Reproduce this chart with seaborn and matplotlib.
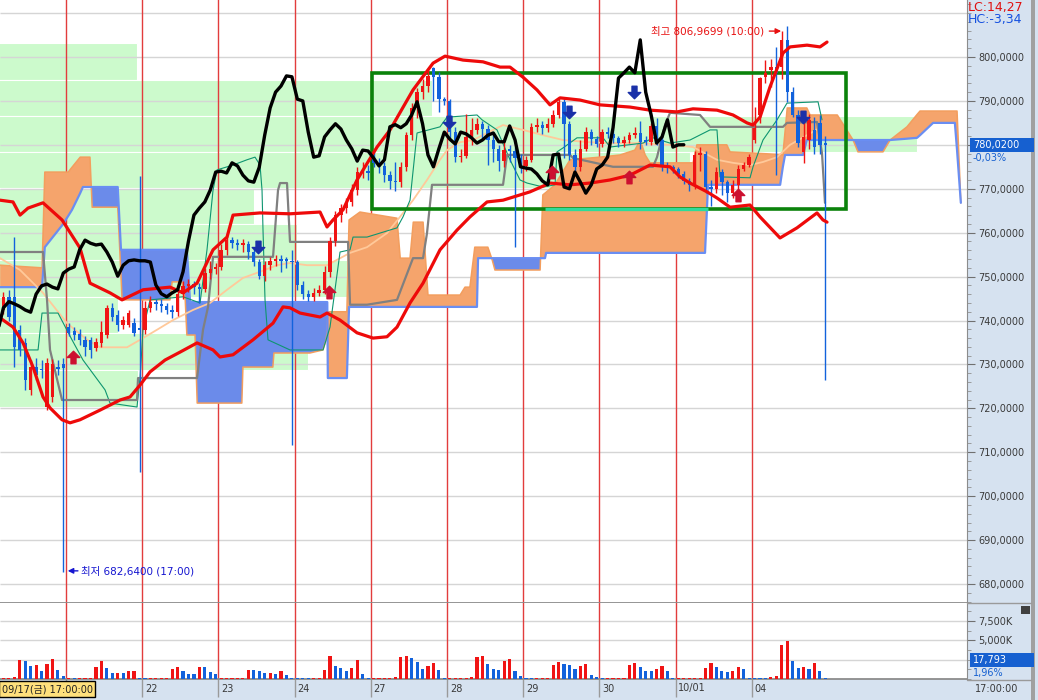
import numpy as np
import matplotlib
matplotlib.use("Agg")
import matplotlib.pyplot as plt
import seaborn as sns
from matplotlib.path import Path
from matplotlib.patches import Rectangle
from matplotlib.ticker import MultipleLocator

sns.set_style("white")
plt.rcParams["font.family"] = ["DejaVu Sans", "Noto Sans CJK KR"]

# ---------------- data (hourly bars, 14 per session, bar 0 = first day line) ----------------
first_bar = -12
opens = [742.4, 745.4, 745.4, 737.9, 734.9, 724.2, 729.4, 729.0, 720.3, 722.5, 729.5, 730.0,
         738.5, 737.6, 737.0, 735.6, 735.6, 733.7, 734.9, 736.7, 742.9, 741.3, 739.0, 739.0, 739.4,
         738.3, 737.8, 742.9, 744.3, 743.8, 743.2, 742.4, 741.9, 746.0, 747.9, 748.3, 747.6,
         747.2, 750.8, 751.7, 752.2, 756.1, 758.3, 757.6, 757.2, 757.4, 755.6, 753.3, 750.1, 752.6, 753.6,
         753.8, 754.0, 753.6, 753.3, 748.1, 746.1, 745.4, 746.3, 747.0, 751.1, 758.1, 764.0, 765.6, 767.0,
         769.7, 773.8, 774.0, 777.5, 775.9, 775.2, 773.1, 771.8, 771.5, 774.9, 782.2, 788.4, 792.0, 793.4,
         797.5, 795.5, 790.4, 790.0, 782.9, 777.2, 777.5, 781.8, 783.4, 784.8, 783.6, 781.1, 779.1, 776.3,
         778.8, 778.6, 777.0, 775.2, 776.6, 784.1, 784.6, 783.9, 784.8, 786.8, 789.8, 784.8, 777.7, 775.0,
         779.1, 782.9, 781.3, 780.2, 782.9, 782.5, 781.6, 780.4, 781.1, 782.2, 782.7, 781.2, 780.7, 784.3,
         781.1, 775.0, 774.7, 774.5, 773.4, 771.8, 770.9, 777.7, 777.9, 770.4, 770.0, 773.8, 771.5, 769.0,
         770.9, 774.5, 775.4,
         781.0, 786.8, 795.4, 797.0, 797.7, 797.7, 803.9, 792.0, 786.8, 778.4, 781.1, 783.4, 785.0, 780.2]
highs = [746.5, 747.0, 759.0, 739.0, 736.0, 731.0, 731.5, 731.0, 731.5, 731.2, 731.0, 731.5,
         739.5, 738.5, 738.0, 736.5, 736.2, 736.0, 740.0, 743.5, 744.0, 742.5, 741.0, 742.5, 740.5,
         773.0, 744.5, 745.5, 745.0, 745.0, 744.0, 743.5, 747.0, 749.0, 749.5, 749.0, 748.5,
         752.0, 753.5, 753.0, 757.5, 759.5, 759.0, 758.5, 758.5, 758.0, 756.5, 754.0, 753.5, 754.5, 755.0,
         755.0, 754.5, 756.0, 753.8, 749.0, 747.0, 747.5, 748.0, 752.5, 759.0, 765.0, 766.5, 768.0, 771.0,
         775.0, 776.0, 775.5, 778.5, 777.0, 776.0, 774.0, 776.0, 776.0, 783.0, 789.5, 793.0, 795.0, 797.5,
         797.8, 796.5, 791.0, 790.5, 784.0, 779.0, 787.0, 786.0, 786.0, 785.5, 784.5, 782.5, 780.0, 781.0,
         780.0, 779.5, 778.0, 777.5, 785.0, 786.0, 785.5, 786.0, 788.0, 791.0, 790.5, 785.5, 779.0, 781.0,
         784.0, 783.5, 782.0, 783.5, 784.0, 783.5, 782.0, 782.0, 783.0, 784.0, 785.5, 782.0, 785.0, 786.0,
         782.0, 776.0, 775.5, 775.0, 774.0, 772.5, 778.5, 779.5, 778.5, 772.0, 775.0, 774.5, 772.0, 772.0,
         775.5, 776.0, 778.0,
         788.6, 795.5, 799.3, 799.5, 802.3, 806.0, 806.97, 793.2, 787.9, 785.7, 787.0, 786.3, 786.8, 782.0]
lows = [741.5, 740.0, 729.4, 732.0, 724.2, 723.0, 726.5, 727.0, 719.6, 721.5, 727.5, 682.64,
        736.5, 735.5, 734.5, 732.0, 731.5, 733.0, 734.0, 736.0, 740.0, 737.5, 738.0, 738.5, 736.5,
        705.5, 737.0, 742.0, 742.5, 742.0, 741.5, 740.5, 741.0, 745.0, 746.5, 746.0, 744.0,
        746.5, 749.5, 750.5, 751.5, 755.0, 756.5, 756.0, 755.5, 754.0, 752.5, 749.5, 749.0, 751.5, 752.5,
        751.0, 752.0, 711.6, 747.0, 745.0, 744.5, 744.5, 745.5, 746.0, 750.0, 757.0, 762.5, 764.5, 766.0,
        768.5, 772.5, 772.0, 775.0, 773.5, 771.5, 770.0, 769.5, 770.5, 774.0, 781.0, 786.0, 790.5, 792.0,
        790.0, 787.5, 789.0, 781.5, 776.0, 776.0, 777.0, 780.0, 782.5, 781.0, 775.5, 776.0, 774.0, 775.0,
        776.0, 756.8, 773.5, 774.0, 776.0, 783.0, 782.5, 783.0, 784.0, 786.0, 777.0, 776.5, 774.0, 774.0,
        778.5, 780.0, 779.5, 779.5, 781.5, 780.5, 779.5, 779.5, 780.5, 781.5, 779.0, 780.0, 780.0, 780.0,
        774.0, 773.5, 773.5, 772.5, 771.0, 769.5, 770.0, 774.0, 769.0, 766.0, 769.0, 768.5, 767.0, 768.0,
        770.0, 774.0, 775.0,
        780.4, 785.0, 794.0, 793.2, 773.1, 795.0, 789.8, 786.3, 779.5, 775.9, 779.0, 778.0, 778.0, 726.5]
closes = [745.4, 740.8, 734.0, 733.3, 726.5, 729.4, 727.5, 728.7, 730.3, 730.0, 729.0, 729.2,
          737.2, 736.7, 735.6, 734.0, 733.3, 735.1, 737.4, 742.9, 740.8, 739.0, 740.1, 741.7, 737.2,
          737.8, 742.9, 744.3, 743.8, 743.2, 742.4, 741.9, 746.0, 747.9, 748.3, 747.6, 747.2,
          750.8, 751.7, 752.2, 756.1, 758.3, 757.6, 757.2, 757.4, 755.6, 753.3, 750.1, 752.6, 753.6, 753.8,
          753.6, 753.6, 753.3, 748.1, 746.1, 745.4, 746.3, 747.0, 751.1, 758.1, 764.0, 765.6, 767.0, 769.7,
          773.8, 774.0, 773.6, 775.9, 775.2, 773.1, 771.8, 771.5, 774.9, 782.2, 788.4, 792.0, 793.4, 795.7,
          795.5, 790.4, 790.0, 782.9, 777.2, 777.5, 781.8, 783.4, 784.8, 783.6, 781.1, 779.1, 776.3, 778.8,
          778.6, 777.0, 775.2, 776.6, 784.1, 784.6, 783.9, 784.8, 786.8, 789.8, 784.8, 777.7, 775.0, 779.1,
          782.9, 781.3, 780.2, 782.9, 782.5, 781.6, 780.4, 781.1, 782.2, 782.7, 780.7, 780.7, 784.3, 781.1,
          775.0, 774.7, 774.5, 773.4, 771.8, 770.9, 777.7, 777.9, 770.4, 770.0, 773.8, 771.5, 769.0, 770.9,
          774.5, 775.4, 777.2,
          783.9, 795.2, 796.4, 797.7, 796.4, 803.9, 792.0, 786.8, 780.4, 781.8, 785.7, 779.5, 780.0, 780.02]
volumes = [130, 130, 300, 2420, 2290, 1640, 1770, 990, 1900, 2550, 1120, 350,
           130, 130, 130, 130, 130, 1510, 2290, 1380, 730, 730, 730, 990, 990, 130,
           130, 130, 130, 130, 130, 1250, 1510, 990, 600, 600, 1510, 1510, 860, 600,
           130, 130, 130, 130, 130, 1120, 1120, 990, 730, 730, 600, 990, 475, 130,
           130, 130, 130, 130, 130, 1120, 2940, 1640, 1380, 990, 1380, 2420, 600, 130,
           130, 130, 130, 130, 216, 2810, 2940, 2680, 2160, 1250, 1640, 2030, 1120, 130,
           130, 130, 130, 130, 216, 2810, 2940, 1900, 1250, 1120, 2290, 2550, 990, 350,
           130, 130, 130, 130, 130, 1770, 2160, 1900, 1770, 1250, 1640, 1900, 475, 216,
           130, 130, 130, 130, 130, 1770, 2030, 1510, 990, 990, 1250, 1640, 990, 130,
           130, 130, 130, 130, 130, 1380, 2030, 1510, 990, 860, 990, 1510, 1250, 130,
           130, 130, 130, 216, 350, 4360, 4880, 2290, 1380, 1510, 1250, 2030, 990, 130]
vol_up = ("rrrrbbrbrrbb" + "rbrrrrrbbrbrrb" + "brrrrrrbbbrbbb" + "rrrrrrbbbrbrbb" +
          "bbbrrrrbbbrrbb" + "rrrrrrrbbbrrbb" + "rrrrrrrbbbrrbb" + "bbrrrrrbbbrrbb" +
          "brrrrrrbbbrrbb" + "rrrrrrrbbbrrbb" + "bbbrrrrbbrbrbb")

day_starts = [0, 14, 28, 42, 56, 70, 84, 98, 112, 126]
day_labels = ["", "22", "23", "24", "27", "28", "29", "30", "10/01", "04"]

# Bollinger bands and middle line
upper_x = [-12.13, -9.74, -8.45, -6.98, -4.23, -0.73, 2.57, 4.41, 8.08, 10.29, 14.15, 19.11, 21.50, 24.07,
           27.01, 29.58, 30.68, 35.64, 41.15, 46.67, 47.95, 49.05, 50.89, 53.46, 57.14, 59.53, 63.75,
           67.43, 69.63, 72.94, 76.61, 79.74, 81.57, 83.96, 86.53, 88.92, 90.76, 94.43, 98.11, 103.62,
           107.29, 112.25, 115.19, 119.60, 122.54, 125.11, 126.22, 127.50, 129.34, 131.73, 133.01,
           136.14, 138.53, 139.81]
upper_y = [767.4, 767.0, 764.0, 765.6, 766.8, 762.9, 756.5, 748.5, 746.3, 744.7, 747.0, 747.6, 746.3, 748.5,
           756.1, 759.0, 764.0, 764.5, 764.3, 764.7, 761.3, 762.9, 765.2, 772.0, 779.5, 783.4, 792.5,
           798.6, 800.2, 799.3, 798.9, 797.7, 797.7, 795.4, 792.5, 789.1, 790.7, 790.2, 789.1, 788.6,
           787.9, 787.5, 788.2, 787.9, 786.8, 785.0, 784.5, 786.3, 793.2, 800.9, 802.3, 802.7, 802.3, 803.4]
lower_x = [-12.13, -9.74, -7.90, -6.06, -4.23, -2.94, -0.73, 0.73, 2.57, 6.25, 9.92, 11.76, 13.60, 15.43,
           18.19, 20.94, 24.07, 27.01, 28.29, 30.68, 34.35, 38.03, 39.87, 41.15, 42.99, 46.67, 47.95,
           50.34, 53.46, 56.40, 58.97, 60.81, 63.20, 65.59, 68.71, 71.84, 74.22, 77.35, 80.29, 85.25,
           88.92, 92.60, 96.27, 99.94, 103.62, 107.29, 110.97, 112.80, 114.64, 117.77, 119.60, 121.99,
           125.67, 127.50, 131.18, 134.30, 137.97, 139.07, 139.81]
lower_y = [740.6, 738.5, 734.9, 729.4, 722.6, 720.1, 717.4, 716.7, 717.4, 719.6, 721.9, 722.6, 725.3, 728.3,
           731.0, 732.8, 734.9, 733.3, 731.7, 732.2, 735.6, 739.4, 743.1, 742.9, 741.7, 740.8, 741.7,
           740.1, 737.2, 736.0, 736.3, 738.5, 744.0, 748.5, 756.1, 760.6, 763.6, 767.0, 767.4, 769.3,
           771.3, 770.9, 771.3, 772.0, 773.1, 775.4, 775.0, 772.7, 771.3, 769.3, 767.9, 765.8,
           766.3, 763.6, 758.8, 761.1, 764.5, 762.9, 762.4]
mid_x = [-12.13, -8.45, -4.23, 0.18, 3.86, 6.25, 11.21, 13.60, 16.72, 19.66, 23.33, 26.46, 29.58, 32.52,
         35.64, 38.77, 41.15, 44.28, 47.95, 52.18, 55.30, 58.97, 61.36, 63.75, 66.32, 68.71, 70.00, 72.39,
         74.78, 77.35, 80.29, 83.96, 87.64, 91.31, 96.27, 99.94, 104.91, 110.97, 115.19, 119.60, 122.54,
         125.67, 128.05, 130.63, 133.01, 136.14, 138.53]
mid_y = [754.2, 751.5, 746.3, 739.4, 735.6, 733.9, 733.9, 735.6, 737.9, 740.1, 742.4, 744.0, 747.0, 749.7,
         751.1, 752.6, 753.1, 752.6, 752.6, 755.4, 756.7, 759.9, 763.6, 767.4, 772.0, 776.6, 778.8, 780.6,
         781.1, 782.7, 784.5, 783.4, 782.2, 781.1, 780.6, 780.4, 780.4, 780.0, 779.5, 776.6, 775.9,
         775.4, 776.1, 777.2, 780.0, 782.2, 783.9]

# Ichimoku: base line, conversion line, leading spans
base_x = [-12.13, -4.23, -3.49, -2.94, -0.73, 13.04, 13.23, 24.07, 25.17, 26.09, 27.01, 38.03, 38.95, 39.32,
          40.60, 41.15, 51.81, 52.18, 55.30, 60.81, 63.75, 65.59, 66.32, 67.24, 80.29, 81.02, 92.60, 93.15,
          100.50, 107.84, 108.58, 110.05, 110.97, 116.48, 118.32, 131.73, 132.46, 137.97, 138.89, 139.44]
base_y = [755.6, 755.6, 744.7, 733.3, 721.9, 721.9, 726.9, 726.9, 737.9, 743.1, 754.5, 754.5, 769.7, 771.3,
          771.3, 757.9, 757.9, 743.6, 743.6, 744.7, 754.2, 754.2, 759.9, 770.9, 770.9, 777.7, 777.7, 777.0,
          775.0, 775.0, 777.2, 784.5, 787.3, 786.8, 784.1, 784.1, 785.0, 785.2, 778.1, 766.8]
conv_x = [-12.13, -5.14, -4.41, -1.47, 1.10, 3.12, 7.17, 8.08, 13.04, 13.60, 14.15, 15.43, 21.50, 24.62,
          25.90, 27.01, 27.74, 30.68, 33.25, 34.72, 35.64, 36.01, 36.19, 36.56, 37.11, 41.15, 47.22, 48.50,
          50.34, 52.18, 52.73, 55.30, 60.81, 61.91, 63.20, 64.49, 68.71, 70.00, 75.51, 76.43, 79.18, 81.57,
          83.41, 84.70, 87.64, 89.84, 90.21, 91.31, 93.88, 98.66, 99.94, 106.01, 107.84, 110.97, 114.64,
          118.32, 119.60, 120.15, 125.67, 126.22, 128.05, 130.63, 132.46, 138.16, 138.89]
conv_y = [733.3, 733.3, 741.7, 741.7, 735.6, 731.0, 724.2, 721.2, 720.3, 727.1, 737.9, 744.7, 745.4, 744.0,
          756.1, 769.7, 774.3, 775.4, 776.6, 777.2, 775.4, 769.7, 760.6, 744.7, 735.6, 733.3, 733.3, 738.5,
          755.6, 756.1, 759.0, 759.0, 761.1, 763.6, 767.4, 782.7, 784.1, 786.3, 786.8, 785.7, 783.4, 776.6,
          772.0, 771.3, 770.4, 770.9, 778.4, 779.3, 781.6, 781.6, 779.5, 780.4, 781.6, 780.4, 781.1,
          783.4, 783.4, 772.7, 772.5, 775.0, 781.1, 785.7, 789.5, 789.8, 785.7]
cloud_x = [-12.1, -4.4, -3.9, -0.7, 0.4, 1.1, 2.6, 3.1, 4.4, 4.8, 9.5, 10.1, 10.3, 19.1, 19.5, 21.3, 21.9,
           22.2, 22.8, 23.7, 24.1, 32.3, 32.5, 38.0, 38.2, 44.8, 47.2, 47.8, 48.0, 48.1, 51.6, 52.0, 54.0,
           60.8, 61.4, 63.2, 63.8, 65.6, 66.5, 72.4, 73.3, 74.2, 75.1, 75.5, 75.7, 77.5, 78.3, 78.8, 87.1,
           87.6, 88.0, 88.2, 89.8, 92.6, 98.1, 101.8, 104.5, 105.5, 106.4, 107.3, 115.2, 115.9, 117.4,
           117.95, 121.4, 122.0, 131.2, 131.7, 132.1, 132.5, 135.4, 136.1, 136.7, 141.7, 144.6, 145.5,
           150.1, 151.4, 154.5, 156.35, 156.9, 159.3, 163.3, 163.7, 164.4]
span_a = [752.6, 752.0, 773.8, 773.8, 773.8, 774.9, 777.2, 777.2, 777.2, 765.8, 765.8, 750.2, 744.7, 744.7,
          748.8, 748.8, 744.7, 736.7, 736.7, 736.7, 721.2, 721.2, 729.4, 729.4, 732.6, 732.6, 733.3, 735.6,
          738.0, 742.0, 742.0, 762.9, 764.7, 763.3, 754.2, 754.2, 762.4, 762.4, 745.8, 745.8, 747.6, 747.6,
          756.7, 756.7, 756.7, 756.7, 753.8, 751.5, 751.5, 768.6, 769.0, 769.2, 770.9, 776.6, 777.2, 777.7,
          778.8, 781.1, 777.7, 775.9, 775.9, 780.0, 780.0, 780.0, 780.0, 778.4, 777.8, 777.7, 783.0, 788.4,
          788.4, 788.4, 786.8, 786.8, 781.1, 778.4, 778.4, 781.1, 784.1, 786.9, 787.7, 787.7, 787.7, 787.7,
          766.8]
span_b = [747.6, 747.6, 756.7, 761.7, 763.8, 765.2, 769.0, 770.4, 770.4, 770.4, 770.4,
          756.1, 756.1, 756.1, 756.1, 756.1, 756.1, 756.1,
          744.2, 744.2, 744.2, 744.2, 744.2, 744.2, 744.2, 744.2, 744.2, 744.2, 744.2,
          726.9, 726.9,
          743.1, 743.1, 743.1, 743.1, 743.1, 743.1, 743.1, 743.1, 743.1, 743.1, 743.1, 743.1, 743.1,
          754.2, 754.2, 754.2, 754.2, 754.2, 754.2, 754.2,
          755.4, 755.4, 755.4, 755.4, 755.4, 755.4, 755.4, 755.4, 755.4, 755.4, 755.4, 755.4,
          770.9, 770.9, 770.9, 770.9, 775.0, 777.7, 777.7, 777.7,
          781.1, 781.1, 781.1, 781.1, 781.1, 781.1, 781.1, 781.4, 781.6, 782.2, 785.0, 785.0, 778.8, 766.8]

# price-by-volume bands
band_lo = [794.8, 786.6, 778.4, 770.2, 762.0, 753.8, 745.4, 737.2, 728.7, 720.3]
band_hi = [803.2, 794.8, 786.6, 778.4, 770.2, 762.0, 753.8, 745.4, 737.2, 728.7]
band_end = [13.0, 67.2, 156.4, 114.6, 34.5, 42.4, 51.6, 9.6, 44.5, 13.2]

# signal arrows
buy_x = [1.29, 48.32, 89.29, 103.44, 123.46]
buy_y = [731.7, 746.5, 773.8, 772.7, 768.6]
sell_x = [35.27, 70.37, 92.42, 104.36, 135.40]
sell_y = [756.7, 785.2, 787.5, 792.0, 786.3]

for arr in (opens, highs, lows, closes, volumes):
    assert len(arr) == len(vol_up), len(arr)

# ---------------- figure ----------------
RED = "#F01414"
BLUE = "#1262DC"
PANEL = "#D6E2F0"
xmin, xmax = -12.13, 165.53

fig = plt.figure(figsize=(10.38, 7), dpi=100)
fig.patch.set_facecolor(PANEL)
W = 967 / 1038
ax = fig.add_axes([0, 97 / 700, W, 603 / 700])
axv = fig.add_axes([0, 21 / 700, W, 76 / 700], sharex=ax)
for a in (ax, axv):
    a.set_facecolor("white")

o = np.array(opens); h = np.array(highs); l = np.array(lows); c = np.array(closes)
xc = np.arange(first_bar, first_bar + len(c)) + 0.5

# bands
for lo, hi, end in zip(band_lo, band_hi, band_end):
    ax.add_patch(Rectangle((xmin - 1, lo), end - xmin + 1, hi - lo, facecolor="#CCFACC",
                           edgecolor="white", lw=0.8, zorder=0.5))
ax.hlines(np.arange(680, 811, 10), xmin, xmax, colors="#D5D5D5", lw=1, zorder=0.7)
ax.vlines(day_starts, 670, 820, colors="#E23C3C", lw=1, zorder=1)
axv.vlines(day_starts, 0, 10000, colors="#E23C3C", lw=1, zorder=1)
axv.hlines([2500, 5000, 7500], xmin, xmax, colors="#D5D5D5", lw=1, zorder=0.7)

# cloud
sa = np.array(span_a); sb = np.array(span_b)
ax.fill_between(cloud_x, sa, sb, where=sa >= sb, interpolate=True, color="#F5A46C", lw=0, zorder=2)
ax.fill_between(cloud_x, sa, sb, where=sa < sb, interpolate=True, color="#6B8BEA", lw=0, zorder=2)
sns.lineplot(x=cloud_x, y=span_a, ax=ax, color="#F39E5E", linewidth=1.1, estimator=None, sort=False, zorder=2.5)
sns.lineplot(x=cloud_x, y=span_b, ax=ax, color="#6A8EF2", linewidth=1.6, estimator=None, sort=False, zorder=2.5)

# box around the range
ax.add_patch(Rectangle((56.22, 765.4), 143.30 - 56.22, 796.4 - 765.4, fill=False,
                       edgecolor="#0B820B", lw=2.6, zorder=4.5))
ax.plot([88.0, 117.95], [765.4, 765.4], color="#2EDB9A", lw=2.4, zorder=4.6, solid_capstyle="butt")

# indicator lines
sns.lineplot(x=mid_x, y=mid_y, ax=ax, color="#FFC99A", linewidth=1.3, estimator=None, sort=False, zorder=3)
sns.lineplot(x=conv_x, y=conv_y, ax=ax, color="#0E9570", linewidth=0.8, estimator=None, sort=False, zorder=3.5)
sns.lineplot(x=base_x, y=base_y, ax=ax, color="#808080", linewidth=1.6, estimator=None, sort=False, zorder=4)

# candles
up = c >= o
ccol = np.where(up, RED, BLUE)
ax.vlines(xc, l, h, colors=ccol, lw=1, zorder=5)
body_lo = np.minimum(o, c)
body_h = np.maximum(np.abs(c - o), 0.35)
ax.bar(xc, body_h, bottom=body_lo, width=0.62, color=ccol, lw=0, zorder=5.1)

# bollinger + lagging span
sns.lineplot(x=upper_x, y=upper_y, ax=ax, color="#EE0A0A", linewidth=2.3, estimator=None, sort=False, zorder=6.5)
sns.lineplot(x=lower_x, y=lower_y, ax=ax, color="#EE0A0A", linewidth=2.3, estimator=None, sort=False, zorder=6.5)
sns.lineplot(x=xc[25:] - 26, y=c[25:], ax=ax, color="black", linewidth=2.4, estimator=None, sort=False, zorder=7)

# signal arrows
uv = [(-0.2, -0.5), (0.2, -0.5), (0.2, 0.0), (0.5, 0.0), (0.0, 0.5), (-0.5, 0.0), (-0.2, 0.0), (-0.2, -0.5)]
codes = [Path.MOVETO] + [Path.LINETO] * 6 + [Path.CLOSEPOLY]
up_arrow = Path(uv, codes)
down_arrow = Path([(x, -y) for x, y in uv], codes)
ax.plot(buy_x, buy_y, ls="none", marker=up_arrow, markersize=9, color="#CC1030", zorder=8)
ax.plot(sell_x, sell_y, ls="none", marker=down_arrow, markersize=9, color="#1A30A8", zorder=8)

# high / low notes
ax.text(128.3, 805.9, "최고 806,9699 (10:00)", color="#E81010", fontsize=7.5, ha="right", va="center", zorder=9)
ax.annotate("", xy=(131.9, 805.9), xytext=(128.7, 805.9),
            arrowprops=dict(arrowstyle="-|>", color="#E81010", lw=1, mutation_scale=8), zorder=9)
ax.text(2.8, 683.0, "최저 682,6400 (17:00)", color="#1515D0", fontsize=7.5, ha="left", va="center", zorder=9)
ax.annotate("", xy=(-0.2, 683.0), xytext=(2.7, 683.0),
            arrowprops=dict(arrowstyle="-|>", color="#1515D0", lw=1, mutation_scale=8), zorder=9)

# volume
vcol = [RED if u == "r" else BLUE for u in vol_up]
axv.bar(xc, volumes, width=0.58, color=vcol, lw=0, zorder=3)

# axes styling
ax.set_xlim(xmin, xmax)
ax.set_ylim(675.68, 812.98)
axv.set_ylim(0, 9800)
ax.set_xlabel(""); ax.set_ylabel("")
for a in (ax, axv):
    a.tick_params(axis="x", bottom=False, labelbottom=False)
    a.yaxis.tick_right()
    for s in ("left", "top"):
        a.spines[s].set_visible(False)
    a.spines["right"].set_color("#8C8C8C")
    a.spines["bottom"].set_color("#8C8C8C")
    a.spines["bottom"].set_linewidth(1.3)

pticks = np.arange(680, 801, 10)
ax.set_yticks(pticks)
ax.set_yticklabels(["" if v == 780 else f"{v:.4f}".replace(".", ",") for v in pticks])
ax.yaxis.set_minor_locator(MultipleLocator(2))
ax.tick_params(axis="y", which="major", length=6, color="#707070", labelsize=7, labelcolor="#3A3A3A", pad=2)
ax.tick_params(axis="y", which="minor", length=3, color="#909090")

axv.set_yticks([5000, 7500])
axv.set_yticklabels(["5,000K", "7,500K"])
axv.yaxis.set_minor_locator(MultipleLocator(1250))
axv.tick_params(axis="y", which="major", length=6, color="#707070", labelsize=7, labelcolor="#3A3A3A", pad=2)
axv.tick_params(axis="y", which="minor", length=3, color="#909090")

# date band
tr = axv.get_xaxis_transform()
axv.vlines(day_starts, -0.237, 0, transform=tr, colors="#9A9A9A", lw=1, clip_on=False)
for d, lab in zip(day_starts, day_labels):
    axv.text(d + 0.5, -0.125, lab, transform=tr, fontsize=7, color="#3A3A3A", va="center", ha="left")

fig.text(1.5 / 1038, 11 / 700, "09/17(금) 17:00:00", fontsize=7, color="#202020", va="center",
         bbox=dict(boxstyle="square,pad=0.28", fc="#FFE07C", ec="black", lw=1))
fig.text(975 / 1038, 11 / 700, "17:00:00", fontsize=7, color="#3A3A3A", va="center")

# right panel decorations
fig.add_artist(Rectangle((1031 / 1038, 0), 4 / 1038, 1, transform=fig.transFigure,
                         facecolor="#A0A0A0", lw=0))
for yy in (603, 680):
    fig.add_artist(plt.Line2D([967 / 1038, 1031 / 1038], [1 - yy / 700] * 2, transform=fig.transFigure,
                              color="#9A9A9A", lw=1))
fig.text(968 / 1038, 1 - 8 / 700, "LC:14,27", fontsize=9, color="#E01010", va="center")
fig.text(968 / 1038, 1 - 20 / 700, "HC:-3,34", fontsize=9, color="#1450E0", va="center")

fig.add_artist(Rectangle((970 / 1038, 1 - 152 / 700), 64 / 1038, 14 / 700, transform=fig.transFigure,
                         facecolor="#1660D0", lw=0))
fig.text(973 / 1038, 1 - 145 / 700, "780,0200", fontsize=7, color="white", va="center")
fig.text(973 / 1038, 1 - 157.5 / 700, "-0,03%", fontsize=7, color="#1660D0", va="center")
fig.add_artist(Rectangle((970 / 1038, 1 - 667 / 700), 64 / 1038, 14 / 700, transform=fig.transFigure,
                         facecolor="#1660D0", lw=0))
fig.text(973 / 1038, 1 - 660 / 700, "17,793", fontsize=7, color="white", va="center")
fig.text(973 / 1038, 1 - 673 / 700, "1,96%", fontsize=7, color="#1660D0", va="center")
fig.add_artist(Rectangle((1021 / 1038, 1 - 614 / 700), 9 / 1038, 8 / 700, transform=fig.transFigure,
                         facecolor="#404040", lw=0))

fig.savefig("out.png", dpi=100, facecolor=fig.get_facecolor())
